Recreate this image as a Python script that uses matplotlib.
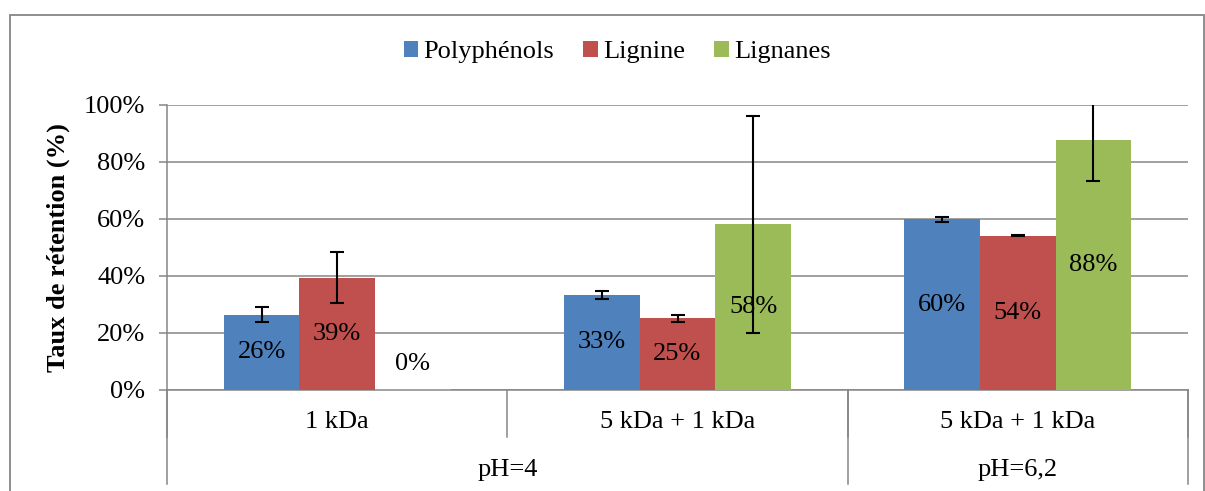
# -*- coding: utf-8 -*-
# plot retention rate (Taux de retention) per membrane / pH
import numpy as np
import matplotlib
matplotlib.use('agg')
import matplotlib.pyplot as plt
from matplotlib.ticker import PercentFormatter
from matplotlib.patches import Rectangle
import matplotlib.transforms as mtrans

seriesNames = ['Polyphénols', 'Lignine', 'Lignanes']
seriesColors = ['#4F81BD', '#C0504D', '#9BBB59']
membraneLabels = ['1 kDa', '5 kDa + 1 kDa', '5 kDa + 1 kDa']
phLabels = ['pH=4', 'pH=6,2']
phSpan = [2, 1]  # number of membrane categories under each pH

polyphenols = [0.264, 0.333, 0.598]
lignine = [0.394, 0.251, 0.541]
lignanes = [0.003, 0.581, 0.877]
polyphenolsErr = [0.025, 0.014, 0.008]
lignineErr = [0.088, 0.012, 0.001]
lignanesErr = [None, 0.38, 0.146]

yTicks = [0, 0.2, 0.4, 0.6, 0.8, 1.0]

plt.rcParams['font.family'] = ['Liberation Serif', 'DejaVu Serif']
fontSize = 19
gridColor = '#868686'

fig = plt.figure(figsize=(12.05, 4.91), dpi=100)
ax = fig.add_axes([167 / 1205, 1 - 390 / 491, (1188 - 167) / 1205, (390 - 104.5) / 491])

allValues = [polyphenols, lignine, lignanes]
allErr = [polyphenolsErr, lignineErr, lignanesErr]
nCat = len(membraneLabels)
xCat = np.arange(nCat)
barWidth = 1 / 4.5  # Excel gap width 150%

for i, (vals, errs) in enumerate(zip(allValues, allErr)):
    xPos = xCat + (i - 1) * barWidth
    ax.bar(xPos, vals, width=barWidth, color=seriesColors[i], label=seriesNames[i], zorder=3)
    # error bars only where there is one
    ex = [x for x, e in zip(xPos, errs) if e is not None]
    ey = [v for v, e in zip(vals, errs) if e is not None]
    ee = [e for e in errs if e is not None]
    ax.errorbar(ex, ey, yerr=ee, fmt='none', ecolor='black', elinewidth=1.5,
                capsize=4.8, capthick=1.5, zorder=5)
    for x, v in zip(xPos, vals):
        ax.text(x, max(v / 2, 0.09), '%d%%' % round(v * 100), ha='center', va='center',
                fontsize=fontSize, color='black', zorder=6)

ax.set_xlim(-0.5, nCat - 0.5)
ax.set_ylim(0, 1)
ax.set_yticks(yTicks)
ax.yaxis.set_major_formatter(PercentFormatter(1.0, decimals=0))
ax.tick_params(axis='y', labelsize=fontSize, direction='out', length=5.5, width=1.1,
               color=gridColor, pad=10)
ax.tick_params(axis='x', bottom=False, labelbottom=False)
ax.grid(axis='y', color=gridColor, linewidth=1.1, zorder=0)
for side in ['top', 'right']:
    ax.spines[side].set_visible(False)
for side in ['left', 'bottom']:
    ax.spines[side].set_color(gridColor)
    ax.spines[side].set_linewidth(1.1)
ax.set_ylabel('Taux de rétention (%)', fontsize=fontSize, fontweight='bold', labelpad=10)

# multi level category axis
trans = mtrans.blended_transform_factory(ax.transData, ax.transAxes)
lvl1Bottom = (390 - 437) / 285.5
lvl2Bottom = (390 - 484) / 285.5
for k in range(nCat + 1):
    ax.plot([k - 0.5, k - 0.5], [0, lvl1Bottom], transform=trans, color=gridColor,
            linewidth=1.1, clip_on=False)
for k, lab in enumerate(membraneLabels):
    ax.text(k, (390 - 422) / 285.5, lab, transform=trans, ha='center', va='center',
            fontsize=fontSize)
edges = [0]
for span in phSpan:
    edges.append(edges[-1] + span)
for e in edges:
    ax.plot([e - 0.5, e - 0.5], [0, lvl2Bottom], transform=trans, color=gridColor,
            linewidth=1.1, clip_on=False)
for k, lab in enumerate(phLabels):
    ax.text((edges[k] + edges[k + 1]) / 2 - 0.5, (390 - 470) / 285.5, lab, transform=trans,
            ha='center', va='center', fontsize=fontSize)

# legend on top
fig.legend(loc='center', bbox_to_anchor=(617 / 1205, 1 - 52 / 491), ncol=3, frameon=False,
           fontsize=fontSize, handlelength=0.55, handleheight=0.55, handletextpad=0.2,
           columnspacing=1.1)

# chart area border
fig.add_artist(Rectangle((10 / 1205, -0.1), (1204 - 10) / 1205, 1.1 - 14.5 / 491,
                         transform=fig.transFigure, fill=False, edgecolor=gridColor,
                         linewidth=1.3))

fig.savefig('out.png', dpi=100)
